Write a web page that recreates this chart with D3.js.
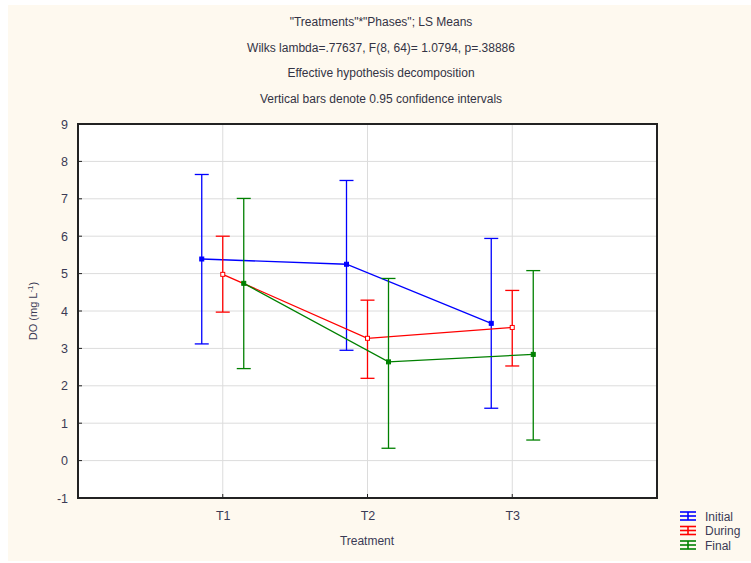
<!DOCTYPE html>
<html><head><meta charset="utf-8">
<script src="https://cdn.jsdelivr.net/npm/d3@7"></script>
<style>body{margin:0;background:#fff;}svg{display:block;font-family:"Liberation Sans",Arial,sans-serif;}</style>
</head><body>
<script>
const categories = ["T1", "T2", "T3"];
const seriesNames = ["Initial", "During", "Final"];
const initialMean = [5.39, 5.25, 3.67];
const initialLow  = [3.12, 2.95, 1.40];
const initialHigh = [7.65, 7.49, 5.94];
const duringMean = [4.98, 3.27, 3.56];
const duringLow  = [3.97, 2.20, 2.53];
const duringHigh = [6.00, 4.29, 4.55];
const finalMean = [4.74, 2.64, 2.84];
const finalLow  = [2.46, 0.33, 0.55];
const finalHigh = [7.01, 4.87, 5.08];
const yTicks = [-1, 0, 1, 2, 3, 4, 5, 6, 7, 8, 9];
const titleLines = ['"Treatments"*"Phases"; LS Means', 'Wilks lambda=.77637, F(8, 64)= 1.0794, p=.38886', 'Effective hypothesis decomposition', 'Vertical bars denote 0.95 confidence intervals'];

const colors = ["#0000ff", "#ff0000", "#008000"];
const offsets = [-21, 0, 21];
const series = [
  {name: seriesNames[0], mean: initialMean, lo: initialLow, hi: initialHigh},
  {name: seriesNames[1], mean: duringMean, lo: duringLow, hi: duringHigh},
  {name: seriesNames[2], mean: finalMean, lo: finalLow, hi: finalHigh}
];

const W = 751, H = 563;
const svg = d3.select("body").append("svg").attr("width", W).attr("height", H);
svg.append("rect").attr("x", 8).attr("y", 5).attr("width", W - 8).attr("height", 556).attr("fill", "#fef9ef");

const L = 78, R = 657, T = 124, B = 498;
const x = d3.scaleLinear().domain([0, 4]).range([L, R]);
const xPos = c => x(categories.indexOf(c) + 1);
const y = d3.scaleLinear().domain([-1, 9]).range([B, T]);

svg.append("rect").attr("x", L).attr("y", T).attr("width", R - L).attr("height", B - T).attr("fill", "#fff");

// gridlines
const g = svg.append("g");
g.selectAll(".hg").data(yTicks.slice(1, -1)).join("line")
  .attr("x1", L).attr("x2", R).attr("y1", d => y(d)).attr("y2", d => y(d))
  .attr("stroke", "#dcdcdc").attr("stroke-width", 1);
g.selectAll(".vg").data(categories).join("line")
  .attr("x1", d => xPos(d)).attr("x2", d => xPos(d)).attr("y1", T).attr("y2", B)
  .attr("stroke", "#dcdcdc").attr("stroke-width", 1);

// axes
const yAxis = d3.axisLeft(y).tickValues(yTicks).tickSize(0).tickPadding(10).tickFormat(d => String(d));
const ya = svg.append("g").attr("transform", `translate(${L},0)`).call(yAxis);
ya.select(".domain").remove();
ya.selectAll("text").attr("font-size", 12.5).attr("fill", "#3b3b55");
svg.append("g").selectAll("line").data(yTicks).join("line")
  .attr("x1", L).attr("x2", L + 4).attr("y1", d => y(d)).attr("y2", d => y(d)).attr("stroke", "#222");

const xAxis = d3.axisBottom(x).tickValues([1, 2, 3]).tickSize(0).tickPadding(13).tickFormat(d => categories[d - 1]);
const xa = svg.append("g").attr("transform", `translate(0,${B})`).call(xAxis);
xa.select(".domain").remove();
xa.selectAll("text").attr("font-size", 12.5).attr("fill", "#3b3b55");
svg.append("g").selectAll("line").data(categories).join("line")
  .attr("x1", d => xPos(d)).attr("x2", d => xPos(d)).attr("y1", B).attr("y2", B - 4).attr("stroke", "#222");

svg.append("rect").attr("x", L).attr("y", T).attr("width", R - L).attr("height", B - T)
  .attr("fill", "none").attr("stroke", "#222").attr("stroke-width", 2);

// series
series.forEach((s, i) => {
  const gs = svg.append("g");
  const pts = categories.map((c, j) => ({px: xPos(c) + offsets[i], m: s.mean[j], lo: s.lo[j], hi: s.hi[j]}));
  gs.append("path").datum(pts)
    .attr("d", d3.line().x(d => d.px).y(d => y(d.m)))
    .attr("fill", "none").attr("stroke", colors[i]).attr("stroke-width", 1.3);
  gs.selectAll(".v").data(pts).join("line")
    .attr("x1", d => d.px).attr("x2", d => d.px).attr("y1", d => y(d.lo)).attr("y2", d => y(d.hi))
    .attr("stroke", colors[i]).attr("stroke-width", 1.3);
  ["lo", "hi"].forEach(k => {
    gs.selectAll(".c" + k).data(pts).join("line")
      .attr("x1", d => d.px - 7).attr("x2", d => d.px + 7).attr("y1", d => y(d[k])).attr("y2", d => y(d[k]))
      .attr("stroke", colors[i]).attr("stroke-width", 1.3);
  });
  gs.selectAll(".m").data(pts).join("rect")
    .attr("x", d => d.px - 2).attr("y", d => y(d.m) - 2).attr("width", 4).attr("height", 4)
    .attr("fill", i === 1 ? "#fff" : colors[i]).attr("stroke", colors[i]).attr("stroke-width", 1);
});

// titles
svg.append("g").selectAll("text").data(titleLines).join("text")
  .attr("x", 381).attr("y", (d, i) => 26 + i * 25.5)
  .attr("text-anchor", "middle").attr("font-size", 12).attr("fill", "#333344").text(d => d);

svg.append("text").attr("x", 367).attr("y", 545).attr("text-anchor", "middle")
  .attr("font-size", 12).attr("fill", "#3b3b55").text("Treatment");

svg.append("text").attr("transform", "translate(37,311) rotate(-90)").attr("text-anchor", "middle")
  .attr("font-size", 11).attr("fill", "#3b3b55")
  .html('DO (mg L<tspan dy="-4" font-size="8">-1</tspan><tspan dy="4">)</tspan>');

// legend
const lg = svg.append("g");
series.forEach((s, i) => {
  const cy = 516 + i * 14.5, cx = 688;
  lg.append("line").attr("x1", cx - 8).attr("x2", cx + 8).attr("y1", cy - 4).attr("y2", cy - 4).attr("stroke", colors[i]).attr("stroke-width", 1.6);
  lg.append("line").attr("x1", cx - 8).attr("x2", cx + 8).attr("y1", cy + 4).attr("y2", cy + 4).attr("stroke", colors[i]).attr("stroke-width", 1.6);
  lg.append("line").attr("x1", cx).attr("x2", cx).attr("y1", cy - 4).attr("y2", cy + 4).attr("stroke", colors[i]).attr("stroke-width", 1.6);
  lg.append("line").attr("x1", cx - 8).attr("x2", cx + 8).attr("y1", cy).attr("y2", cy).attr("stroke", colors[i]).attr("stroke-width", 1.6);
  lg.append("text").attr("x", 705).attr("y", cy + 4.5).attr("font-size", 12).attr("fill", "#3b3b55").text(s.name);
});
</script>
</body></html>
